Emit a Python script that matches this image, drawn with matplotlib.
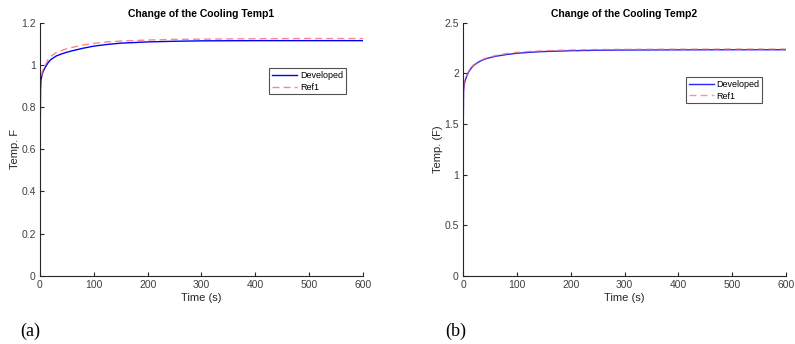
import numpy as np
import matplotlib.pyplot as plt

plt.rcParams['font.family'] = ['Liberation Sans', 'DejaVu Sans']

# time points (s)
t = [0, 0.5, 1, 2, 4, 6, 10, 15, 20, 30, 40, 50, 60, 80, 100, 125, 150,
     200, 250, 300, 400, 500, 600]

# (a) cooling temp 1
dev1 = [0, 0.70, 0.88, 0.93, 0.955, 0.97, 0.99, 1.01, 1.025, 1.042, 1.052,
        1.060, 1.067, 1.079, 1.089, 1.097, 1.103, 1.109, 1.112, 1.114,
        1.115, 1.115, 1.115]
ref1 = [0, 0.72, 0.89, 0.94, 0.965, 0.98, 1.0, 1.025, 1.04, 1.058, 1.068,
        1.077, 1.083, 1.094, 1.102, 1.109, 1.113, 1.118, 1.121, 1.122,
        1.124, 1.125, 1.125]

# (b) cooling temp 2
dev2 = [0, 1.5, 1.82, 1.88, 1.93, 1.96, 2.01, 2.05, 2.08, 2.115, 2.14,
        2.155, 2.168, 2.185, 2.198, 2.208, 2.215, 2.223, 2.228, 2.23,
        2.232, 2.233, 2.233]
ref2 = [0, 1.52, 1.83, 1.89, 1.935, 1.965, 2.015, 2.055, 2.085, 2.12, 2.145,
        2.16, 2.175, 2.195, 2.207, 2.217, 2.223, 2.231, 2.235, 2.237,
        2.239, 2.24, 2.24]

xticks = [0, 100, 200, 300, 400, 500, 600]
yticks1 = [0, 0.2, 0.4, 0.6, 0.8, 1, 1.2]
yticks2 = [0, 0.5, 1, 1.5, 2, 2.5]

fig = plt.figure(figsize=(7.95, 3.44), dpi=100)
ax1 = fig.add_axes([0.0503, 0.198, 0.4063, 0.736])
ax2 = fig.add_axes([0.5824, 0.198, 0.4063, 0.736])


def style(ax, yt, ylab, title):
    ax.set_xlim(0, 600)
    ax.set_ylim(yt[0], yt[-1])
    ax.set_xticks(xticks)
    ax.set_xticklabels([str(v) for v in xticks])
    ax.set_yticks(yt)
    ax.set_yticklabels([f"{v:g}" for v in yt])
    for s in ['top', 'right']:
        ax.spines[s].set_visible(False)
    for s in ['left', 'bottom']:
        ax.spines[s].set_color('#262626')
        ax.spines[s].set_linewidth(0.8)
    ax.tick_params(direction='in', length=3, width=0.8, labelsize=7.5,
                   colors='#262626', labelcolor='#404040', pad=3)
    ax.set_xlabel("Time (s)", fontsize=8, color='#262626', labelpad=2)
    ax.set_ylabel(ylab, fontsize=8, color='#262626', labelpad=1)
    ax.set_title(title, fontsize=7.5, fontweight='bold', pad=4)


def legend(ax, anchor):
    leg = ax.legend(loc='upper left', bbox_to_anchor=anchor,
                    fontsize=6.5, frameon=True, fancybox=False,
                    handlelength=2.8, borderpad=0.3, labelspacing=0.3,
                    handletextpad=0.3, borderaxespad=0)
    leg.get_frame().set_edgecolor('#262626')
    leg.get_frame().set_linewidth(0.8)


ax1.plot(t, dev1, color='#0000ff', lw=1.0, label='Developed')
ax1.plot(t, ref1, color='#ff6666', lw=1.0, ls=(0, (5, 3)), alpha=0.8,
         label='Ref1')
style(ax1, yticks1, "Temp. F", "Change of the Cooling Temp1")
legend(ax1, (0.71, 0.82))

ax2.plot(t, dev2, color='#0000ff', lw=1.0, alpha=0.85, label='Developed')
ax2.plot(t, ref2, color='#ff6666', lw=1.0, ls=(0, (5, 3)), alpha=0.7,
         label='Ref1')
style(ax2, yticks2, "Temp. (F)", "Change of the Cooling Temp2")
legend(ax2, (0.69, 0.785))

fig.text(0.026, 0.022, "(a)", fontsize=13, family='Liberation Serif',
         va='baseline')
fig.text(0.56, 0.022, "(b)", fontsize=13, family='Liberation Serif',
         va='baseline')

fig.savefig("out.png", dpi=100)
